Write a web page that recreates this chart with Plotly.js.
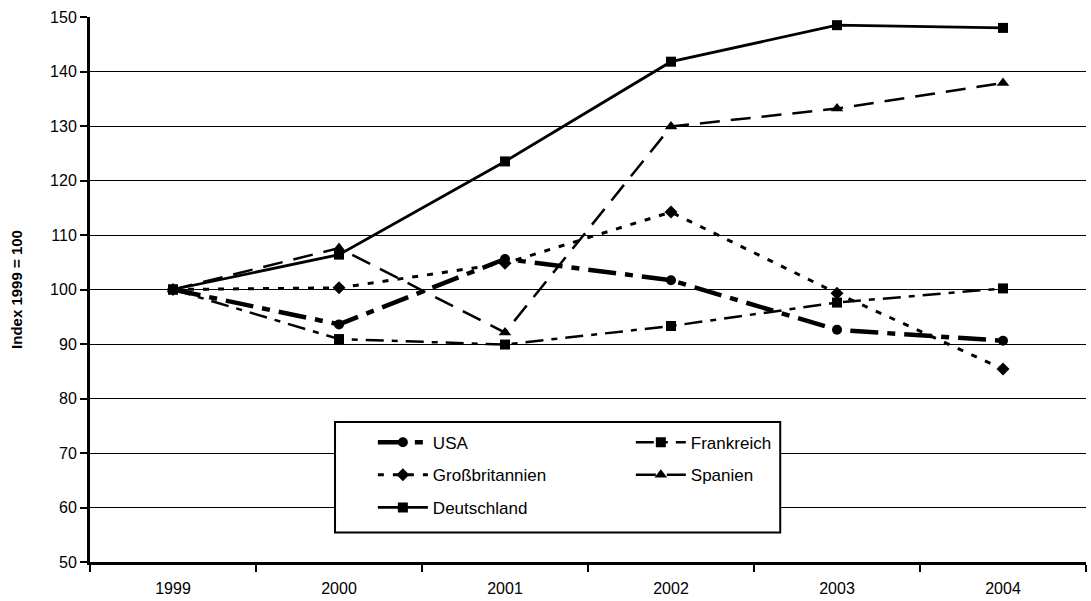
<!DOCTYPE html>
<html>
<head>
<meta charset="utf-8">
<script src="https://cdn.plot.ly/plotly-3.0.1.min.js"></script>
<style>html,body{margin:0;padding:0;background:#fff;}#chart{width:1091px;height:601px;}</style>
</head>
<body>
<div id="chart"></div>
<script>
const years = ['1999', '2000', '2001', '2002', '2003', '2004'];
const usa = [100, 93.6, 105.6, 101.7, 92.6, 90.6];
const frankreich = [100, 90.9, 89.9, 93.3, 97.6, 100.2];
const grossbritannien = [100, 100.3, 104.8, 114.2, 99.3, 85.4];
const spanien = [100, 107.6, 92.1, 129.9, 133.2, 137.9];
const deutschland = [100, 106.4, 123.5, 141.8, 148.5, 148.0];
const yTicks = [50, 60, 70, 80, 90, 100, 110, 120, 130, 140, 150];

const FONT = 'Liberation Sans, Arial, sans-serif';

function tr(name, y, dash, width, symbol, msize, legend, group) {
  return {
    type: 'scatter', mode: 'lines+markers', name: name, x: years, y: y,
    line: {color: '#000', width: width, dash: dash},
    marker: {symbol: symbol, size: msize, color: '#000'},
    legend: legend, legendgroup: group, hoverinfo: 'x+y+name'
  };
}

const data = [
  tr('USA', usa, '28px,9px,8px,9px', 4.5, 'circle', 10, 'legend', 'g1'),
  tr('Frankreich', frankreich, '18px,8px,6px,8px', 2.5, 'square', 10, 'legend2', 'g2'),
  tr('Großbritannien', grossbritannien, '6px,9px', 3, 'diamond', 10, 'legend', 'g3'),
  tr('Spanien', spanien, '20px,11px', 2.5, 'triangle-up', 11, 'legend2', 'g4'),
  tr('Deutschland', deutschland, 'solid', 2.8, 'square', 10, 'legend', 'g5')
];

const legendCommon = {
  orientation: 'v', bgcolor: 'rgba(0,0,0,0)', borderwidth: 0,
  font: {family: FONT, size: 17, color: '#000'},
  tracegroupgap: 7.5, itemwidth: 50, xanchor: 'left', yanchor: 'top', itemclick: false
};

const layout = {
  width: 1091, height: 601,
  margin: {l: 90, r: 5, t: 17, b: 39},
  paper_bgcolor: '#fff', plot_bgcolor: '#fff',
  font: {family: FONT, size: 16, color: '#000'},
  showlegend: true,
  xaxis: {
    type: 'category', categoryarray: years, range: [-0.5, 5.5],
    tickson: 'boundaries', ticks: 'outside', ticklen: 7, tickwidth: 2, tickcolor: '#000',
    showline: true, linecolor: '#000', linewidth: 3, showgrid: false, zeroline: false,
    ticklabelstandoff: 10,
    tickfont: {family: FONT, size: 16, color: '#000'}, fixedrange: true
  },
  yaxis: {
    range: [50, 150], tickvals: yTicks, ticktext: yTicks.map(String),
    ticks: 'outside', ticklen: 7, tickwidth: 2, tickcolor: '#000',
    showline: true, linecolor: '#000', linewidth: 3,
    showgrid: true, gridcolor: '#000', gridwidth: 1, zeroline: false,
    tickfont: {family: FONT, size: 16, color: '#000'},
    title: {text: '<b>Index 1999 = 100</b>', font: {family: FONT, size: 15, color: '#000'}, standoff: 24},
    fixedrange: true
  },
  legend: Object.assign({x: 0.284, y: 0.252}, legendCommon),
  legend2: Object.assign({x: 0.543, y: 0.252}, legendCommon),
  shapes: [{
    type: 'rect', xref: 'paper', yref: 'paper', layer: 'above',
    x0: 0.246, x1: 0.693, y0: 0.054, y1: 0.257,
    line: {color: '#000', width: 2}, fillcolor: '#fff'
  }]
};

Plotly.newPlot('chart', data, layout, {displayModeBar: false});
</script>
</body>
</html>
